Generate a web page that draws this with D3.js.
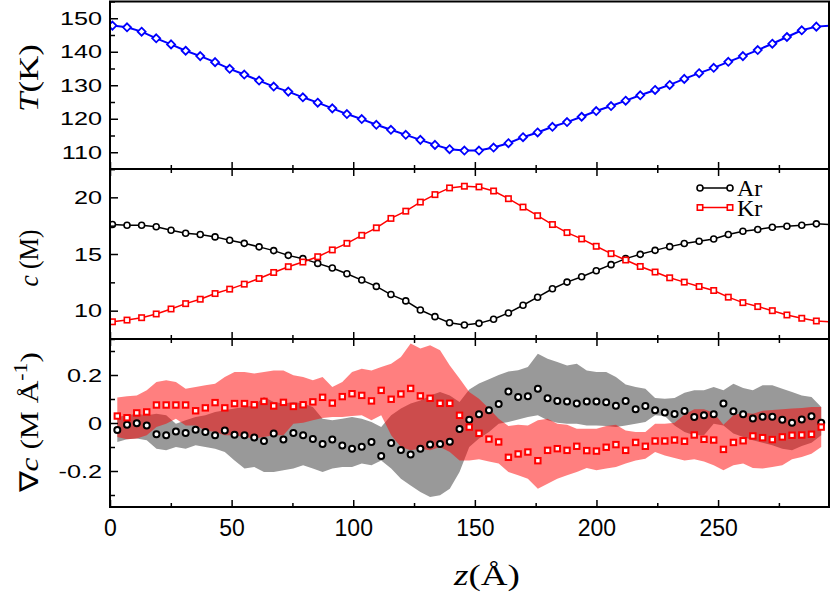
<!DOCTYPE html>
<html>
<head>
<meta charset="utf-8">
<script src="https://cdn.jsdelivr.net/npm/d3@7"></script>
<style>
  body { margin: 0; background: #fff; }
  svg { display: block; }
  .tick line { stroke: #000; stroke-width: 1.5; }
  .serif { font-family: 'Liberation Serif', 'Times New Roman', serif; fill: #000; }
</style>
</head>
<body>
<div id="chart"></div>
<script>
'use strict';

// bin centres (Å) of the T and c profiles
const zProfile = [1.0, 7.0, 13.0, 19.0, 25.1, 31.1, 37.1, 43.2, 49.2, 55.2, 61.3, 67.3, 73.3, 79.3,
  85.4, 91.4, 97.4, 103.5, 109.5, 115.5, 121.6, 127.6, 133.6, 139.6, 145.7, 151.7, 157.7, 163.8,
  169.8, 175.8, 181.9, 187.9, 193.9, 199.9, 206.0, 212.0, 218.0, 224.1, 230.1, 236.1, 242.2,
  248.2, 254.2, 260.2, 266.3, 272.3, 278.3, 284.4, 290.4];

const temperature = [147.8, 147.3, 146.0, 144.0, 142.2, 140.3, 138.7, 136.9, 134.9, 133.2, 131.4,
  129.6, 128.1, 126.4, 124.8, 123.1, 121.4, 119.9, 118.2, 116.7, 115.2, 113.7, 112.2, 110.9,
  110.5, 110.5, 111.4, 112.7, 114.5, 115.9, 117.6, 119.0, 120.6, 122.3, 123.8, 125.4, 127.0,
  128.6, 130.1, 131.9, 133.6, 135.2, 137.0, 138.7, 140.5, 142.4, 144.4, 146.4, 147.5];

const concAr = [17.60, 17.54, 17.54, 17.40, 17.10, 16.83, 16.72, 16.51, 16.21, 15.94, 15.63, 15.30,
  14.88, 14.59, 14.17, 13.77, 13.26, 12.70, 12.14, 11.42, 10.86, 10.06, 9.47, 8.94, 8.73, 8.88,
  9.24, 9.80, 10.48, 11.19, 11.93, 12.52, 12.99, 13.52, 14.06, 14.59, 14.97, 15.32, 15.65, 15.92,
  16.12, 16.33, 16.72, 17.01, 17.16, 17.36, 17.45, 17.54, 17.66];

const concKr = [9.02, 9.17, 9.38, 9.71, 10.15, 10.62, 11.01, 11.51, 11.90, 12.34, 12.84, 13.37,
  13.88, 14.29, 14.76, 15.36, 15.94, 16.65, 17.31, 18.14, 18.78, 19.58, 20.24, 20.83, 20.98,
  20.92, 20.56, 19.88, 19.14, 18.38, 17.60, 16.89, 16.33, 15.68, 15.03, 14.47, 13.90, 13.41,
  12.90, 12.52, 12.13, 11.78, 11.19, 10.71, 10.36, 10.00, 9.62, 9.33, 9.09];

// bin centres (Å) of the gradient profile
const zGrad = [3.0, 7.0, 11.0, 15.1, 19.1, 23.1, 27.1, 31.1, 35.2, 39.2, 43.2, 47.2, 51.2, 55.3,
  59.3, 63.3, 67.3, 71.3, 75.4, 79.4, 83.4, 87.4, 91.4, 95.5, 99.5, 103.5, 107.5, 111.5, 115.6,
  119.6, 123.6, 127.6, 131.6, 135.7, 139.7, 143.7, 147.7, 151.7, 155.8, 159.8, 163.8, 167.8,
  171.8, 175.9, 179.9, 183.9, 187.9, 191.9, 196.0, 200.0, 204.0, 208.0, 212.0, 216.1, 220.1,
  224.1, 228.1, 232.1, 236.2, 240.2, 244.2, 248.2, 252.2, 256.3, 260.3, 264.3, 268.3, 272.3,
  276.4, 280.4, 284.4, 288.4, 292.4];

const gradAr = [-0.029, -0.007, -0.001, -0.010, -0.047, -0.051, -0.035, -0.042, -0.028, -0.038,
  -0.051, -0.031, -0.049, -0.051, -0.060, -0.075, -0.044, -0.069, -0.042, -0.051, -0.067, -0.088,
  -0.069, -0.094, -0.107, -0.099, -0.079, -0.138, -0.083, -0.113, -0.131, -0.107, -0.090, -0.088,
  -0.078, -0.025, 0.014, 0.036, 0.053, 0.079, 0.131, 0.108, 0.111, 0.143, 0.103, 0.092, 0.090,
  0.081, 0.090, 0.090, 0.086, 0.072, 0.092, 0.057, 0.071, 0.053, 0.044, 0.038, 0.050, 0.025,
  0.032, 0.036, 0.081, 0.049, 0.036, 0.019, 0.026, 0.026, 0.014, 0.001, 0.015, 0.028, 0.001];

const gradKr = [0.029, 0.022, 0.042, 0.046, 0.075, 0.075, 0.075, 0.075, 0.051, 0.063, 0.085,
  0.063, 0.081, 0.081, 0.076, 0.090, 0.071, 0.086, 0.069, 0.076, 0.088, 0.107, 0.083, 0.110,
  0.122, 0.115, 0.092, 0.136, 0.099, 0.121, 0.144, 0.113, 0.103, 0.082, 0.082, 0.032, -0.017,
  -0.043, -0.067, -0.079, -0.143, -0.129, -0.121, -0.157, -0.114, -0.107, -0.114, -0.097, -0.115,
  -0.117, -0.101, -0.090, -0.114, -0.081, -0.097, -0.075, -0.075, -0.071, -0.076, -0.050, -0.068,
  -0.071, -0.110, -0.081, -0.074, -0.054, -0.061, -0.069, -0.058, -0.051, -0.050, -0.047, -0.017];

const arHigh = [0.025, 0.032, 0.039, 0.032, 0.039, 0.032, -0.003, 0.011, 0.025, 0.032, 0.046,
  0.053, 0.060, 0.067, 0.074, 0.108, 0.088, 0.081, 0.088, 0.081, 0.067, 0.018, 0.011, 0.018,
  0.025, 0.018, 0.004, -0.017, 0.032, 0.060, 0.081, 0.094, 0.115, 0.129, 0.115, 0.088, 0.140,
  0.165, 0.182, 0.200, 0.215, 0.220, 0.233, 0.289, 0.268, 0.254, 0.240, 0.247, 0.219, 0.213,
  0.213, 0.192, 0.160, 0.150, 0.143, 0.104, 0.101, 0.104, 0.126, 0.136, 0.136, 0.150, 0.136,
  0.164, 0.146, 0.136, 0.157, 0.157, 0.143, 0.129, 0.115, 0.108, 0.067];

const arLow = [-0.079, -0.068, -0.065, -0.072, -0.107, -0.114, -0.100, -0.107, -0.093, -0.100,
  -0.107, -0.121, -0.156, -0.190, -0.183, -0.204, -0.204, -0.197, -0.190, -0.176, -0.190, -0.204,
  -0.190, -0.183, -0.183, -0.169, -0.176, -0.156, -0.190, -0.232, -0.260, -0.288, -0.308, -0.301,
  -0.274, -0.204, -0.100, -0.065, -0.038, -0.003, 0.004, 0.015, 0.025, 0.032, 0.011, 0.001,
  -0.003, -0.003, -0.010, -0.010, -0.013, -0.017, -0.010, -0.003, 0.004, 0.032, 0.029, -0.010,
  -0.038, -0.051, -0.051, -0.003, -0.010, -0.044, -0.058, -0.072, -0.082, -0.093, -0.107, -0.114,
  -0.096, -0.082, -0.051];

const krHigh = [0.106, 0.111, 0.115, 0.136, 0.171, 0.178, 0.171, 0.143, 0.150, 0.157, 0.164,
  0.192, 0.213, 0.213, 0.206, 0.213, 0.219, 0.219, 0.199, 0.192, 0.178, 0.192, 0.150, 0.171,
  0.213, 0.226, 0.219, 0.233, 0.247, 0.275, 0.331, 0.310, 0.324, 0.303, 0.240, 0.185, 0.129,
  0.101, 0.060, 0.018, -0.013, -0.007, -0.010, 0.011, 0.018, -0.003, -0.007, -0.024, -0.024,
  -0.024, -0.013, -0.007, -0.031, -0.038, -0.038, -0.003, -0.003, 0.001, 0.035, 0.057, 0.057,
  0.043, -0.007, 0.032, 0.043, 0.039, 0.051, 0.054, 0.057, 0.060, 0.063, 0.067, 0.067];

const krLow = [-0.058, -0.068, -0.065, -0.051, -0.017, -0.003, 0.018, -0.010, -0.010, -0.031,
  -0.038, -0.051, -0.051, -0.058, -0.065, -0.058, -0.051, -0.051, -0.003, 0.001, 0.011, 0.021,
  0.025, 0.025, 0.029, 0.032, 0.011, 0.032, -0.051, -0.100, -0.114, -0.107, -0.114, -0.100,
  -0.121, -0.156, -0.156, -0.151, -0.160, -0.169, -0.204, -0.218, -0.232, -0.274, -0.253, -0.232,
  -0.218, -0.204, -0.188, -0.197, -0.190, -0.183, -0.169, -0.156, -0.149, -0.121, -0.135, -0.146,
  -0.156, -0.151, -0.160, -0.176, -0.197, -0.176, -0.169, -0.188, -0.190, -0.183, -0.176, -0.151,
  -0.142, -0.128, -0.100];

const zTicks = [0, 50, 100, 150, 200, 250];
const zMinor = [25, 75, 125, 175, 225, 275];
const tTicks = [110, 120, 130, 140, 150];
const tMinor = [105, 115, 125, 135, 145, 155];
const cTicks = [10, 15, 20];
const cMinor = [7.5, 12.5, 17.5, 22.5];
const gTicks = [-0.2, 0, 0.2];
const gMinor = [-0.3, -0.1, 0.1, 0.3];

const boxLength = 295.5;   // periodic box, the profile lines wrap round
const svgWidth = 831, svgHeight = 599;
const plotLeft = 110, plotRight = 829;
const sansFont = "'Liberation Sans', Arial, sans-serif";

let xScale = d3.scaleLinear().domain([0, 295.6]).range([plotLeft, plotRight]);
let yT = d3.scaleLinear().domain([105, 155]).range([169, 1.5]);
let yC = d3.scaleLinear().domain([7.5, 22.5]).range([339, 169]);
let yG = d3.scaleLinear().domain([-0.35, 0.35]).range([507, 339]);

let svg = d3.select('#chart').append('svg')
    .attr('width', svgWidth)
    .attr('height', svgHeight);

svg.append('defs').append('clipPath')
    .attr('id', 'plotclip')
    .append('rect')
    .attr('x', plotLeft).attr('y', 1.5)
    .attr('width', plotRight - plotLeft).attr('height', 507 - 1.5);

function wrapped(z, v) {
    let n = z.length;
    let pts = z.map((d, i) => [d, v[i]]);
    return [[z[n - 1] - boxLength, v[n - 1]]].concat(pts, [[z[0] + boxLength, v[0]]]);
}

function lineFor(y) {
    return d3.line().x(d => xScale(d[0])).y(d => y(d[1]));
}

// ---- top panel: temperature
let tPanel = svg.append('g').attr('clip-path', 'url(#plotclip)');
tPanel.append('path')
    .datum(wrapped(zProfile, temperature))
    .attr('d', lineFor(yT))
    .attr('fill', 'none')
    .attr('stroke', '#0000ff')
    .attr('stroke-width', 2);
tPanel.selectAll('path.diamond')
    .data(temperature)
    .enter()
    .append('path')
    .attr('class', 'diamond')
    .attr('d', 'M0,-4L4,0L0,4L-4,0Z')
    .attr('transform', (d, i) => `translate(${xScale(zProfile[i])},${yT(d)})`)
    .attr('fill', '#fff')
    .attr('stroke', '#0000ff')
    .attr('stroke-width', 1.8);

// ---- middle panel: concentrations
let cPanel = svg.append('g').attr('clip-path', 'url(#plotclip)');
[[concAr, '#000'], [concKr, '#ff0000']].forEach(function (s) {
    cPanel.append('path')
        .datum(wrapped(zProfile, s[0]))
        .attr('d', lineFor(yC))
        .attr('fill', 'none')
        .attr('stroke', s[1])
        .attr('stroke-width', 1.5);
});
cPanel.selectAll('circle')
    .data(concAr)
    .enter()
    .append('circle')
    .attr('cx', (d, i) => xScale(zProfile[i]))
    .attr('cy', d => yC(d))
    .attr('r', 3)
    .attr('fill', '#fff')
    .attr('stroke', '#000')
    .attr('stroke-width', 1.6);
cPanel.selectAll('rect')
    .data(concKr)
    .enter()
    .append('rect')
    .attr('x', (d, i) => xScale(zProfile[i]) - 2.7)
    .attr('y', d => yC(d) - 2.7)
    .attr('width', 5.4)
    .attr('height', 5.4)
    .attr('fill', '#fff')
    .attr('stroke', '#ff0000')
    .attr('stroke-width', 1.6);

// legend
let legend = svg.append('g');
[['Ar', 188, '#000'], ['Kr', 207.5, '#ff0000']].forEach(function (s, k) {
    legend.append('line')
        .attr('x1', 700).attr('x2', 730)
        .attr('y1', s[1]).attr('y2', s[1])
        .attr('stroke', s[2]).attr('stroke-width', 1.5);
    [700, 730].forEach(function (x) {
        if (k === 0) {
            legend.append('circle')
                .attr('cx', x).attr('cy', s[1]).attr('r', 3)
                .attr('fill', '#fff').attr('stroke', s[2]).attr('stroke-width', 1.6);
        } else {
            legend.append('rect')
                .attr('x', x - 2.7).attr('y', s[1] - 2.7)
                .attr('width', 5.4).attr('height', 5.4)
                .attr('fill', '#fff').attr('stroke', s[2]).attr('stroke-width', 1.6);
        }
    });
    legend.append('text')
        .attr('class', 'serif')
        .attr('x', 737)
        .attr('y', s[1] + 8)
        .attr('font-size', 24)
        .text(s[0]);
});

// ---- bottom panel: gradients with spread bands
let gPanel = svg.append('g').attr('clip-path', 'url(#plotclip)');
let band = d3.area()
    .x((d, i) => xScale(zGrad[i]))
    .y0(d => yG(d[0]))
    .y1(d => yG(d[1]));
gPanel.append('path')
    .datum(arLow.map((d, i) => [d, arHigh[i]]))
    .attr('d', band)
    .attr('fill', '#999999');
gPanel.append('path')
    .datum(krLow.map((d, i) => [d, krHigh[i]]))
    .attr('d', band)
    .attr('fill', '#ff0000')
    .attr('fill-opacity', 0.5);
gPanel.selectAll('circle')
    .data(gradAr)
    .enter()
    .append('circle')
    .attr('cx', (d, i) => xScale(zGrad[i]))
    .attr('cy', d => yG(d))
    .attr('r', 3)
    .attr('fill', '#fff')
    .attr('stroke', '#000')
    .attr('stroke-width', 2);
gPanel.selectAll('rect')
    .data(gradKr)
    .enter()
    .append('rect')
    .attr('x', (d, i) => xScale(zGrad[i]) - 2.7)
    .attr('y', d => yG(d) - 2.7)
    .attr('width', 5.4)
    .attr('height', 5.4)
    .attr('fill', '#fff')
    .attr('stroke', '#ff0000')
    .attr('stroke-width', 2);

// ---- axes
function styleAxis(g) {
    g.select('.domain').remove();
    g.selectAll('text').attr('fill', '#000');
}

[[yT, tTicks, tMinor], [yC, cTicks, cMinor], [yG, gTicks, gMinor]].forEach(function (p, k) {
    let y = p[0];
    let yTop = y.range()[1], yBottom = y.range()[0];

    let yAxis = svg.append('g')
        .attr('transform', `translate(${plotLeft},0)`)
        .call(d3.axisLeft(y).tickValues(p[1]).tickSize(-8).tickFormat(String))
        .call(styleAxis)
        .attr('font-family', sansFont)
        .attr('font-size', 19);
    yAxis.selectAll('text')
        .attr('x', -6)
        .attr('transform', 'scale(1.33,1)');
    svg.append('g')
        .attr('transform', `translate(${plotLeft},0)`)
        .call(d3.axisLeft(y).tickValues(p[2]).tickSize(-5).tickFormat(''))
        .call(styleAxis);

    svg.append('g')
        .attr('transform', `translate(0,${yBottom})`)
        .call(d3.axisBottom(xScale).tickValues(zTicks).tickSize(-7).tickPadding(13)
            .tickFormat(k === 2 ? String : ''))
        .call(styleAxis)
        .attr('font-family', sansFont)
        .attr('font-size', 23);
    svg.append('g')
        .attr('transform', `translate(0,${yBottom})`)
        .call(d3.axisBottom(xScale).tickValues(zMinor).tickSize(-4).tickFormat(''))
        .call(styleAxis);

    if (k > 0) {
        svg.append('g')
            .attr('transform', `translate(0,${yTop})`)
            .call(d3.axisTop(xScale).tickValues(zTicks).tickSize(-7).tickFormat(''))
            .call(styleAxis);
        svg.append('g')
            .attr('transform', `translate(0,${yTop})`)
            .call(d3.axisTop(xScale).tickValues(zMinor).tickSize(-4).tickFormat(''))
            .call(styleAxis);
    }

    svg.append('rect')
        .attr('x', plotLeft)
        .attr('y', yTop)
        .attr('width', plotRight - plotLeft)
        .attr('height', yBottom - yTop)
        .attr('fill', 'none')
        .attr('stroke', '#000')
        .attr('stroke-width', 2);
});

// ---- axis titles
let tLabel = svg.append('text')
    .attr('class', 'serif')
    .attr('font-size', 27)
    .attr('text-anchor', 'middle')
    .attr('textLength', 68)
    .attr('lengthAdjust', 'spacingAndGlyphs')
    .attr('transform', 'translate(38,78) rotate(-90)');
tLabel.append('tspan').attr('font-style', 'italic').text('T');
tLabel.append('tspan').text('(K)');

let cLabel = svg.append('text')
    .attr('class', 'serif')
    .attr('font-size', 27)
    .attr('text-anchor', 'middle')
    .attr('textLength', 57)
    .attr('lengthAdjust', 'spacingAndGlyphs')
    .attr('transform', 'translate(38,258) rotate(-90)');
cLabel.append('tspan').attr('font-style', 'italic').text('c');
cLabel.append('tspan').text(' (M)');

let gLabel = svg.append('text')
    .attr('class', 'serif')
    .attr('font-size', 26)
    .attr('text-anchor', 'middle')
    .attr('textLength', 140)
    .attr('lengthAdjust', 'spacingAndGlyphs')
    .attr('transform', 'translate(38,422) rotate(-90)');
gLabel.append('tspan').text('\u2207');
gLabel.append('tspan').attr('font-style', 'italic').text('c');
gLabel.append('tspan').text(' (M \u00C5');
gLabel.append('tspan').attr('font-size', 18).attr('dy', -11).text('-1');
gLabel.append('tspan').attr('dy', 11).text(')');

let zLabel = svg.append('text')
    .attr('class', 'serif')
    .attr('font-size', 29)
    .attr('text-anchor', 'middle')
    .attr('textLength', 66)
    .attr('lengthAdjust', 'spacingAndGlyphs')
    .attr('x', 487)
    .attr('y', 585);
zLabel.append('tspan').attr('font-style', 'italic').text('z');
zLabel.append('tspan').text('(\u00C5)');
</script>
</body>
</html>
